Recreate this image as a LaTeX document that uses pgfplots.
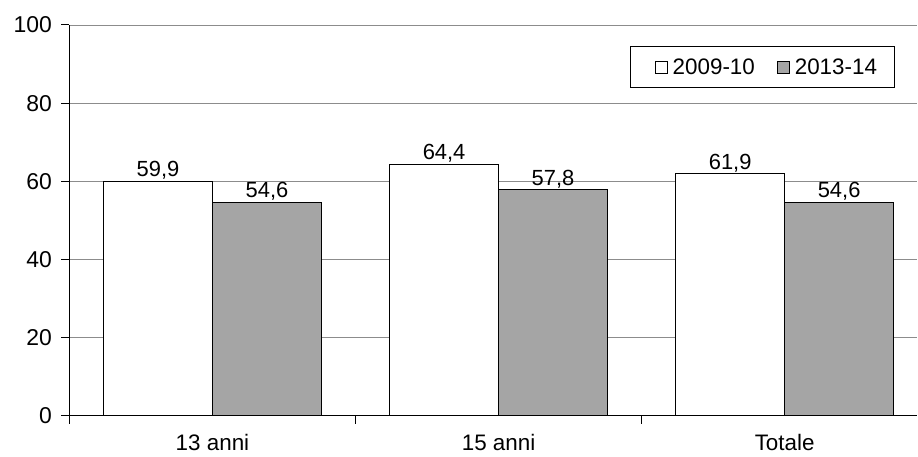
\documentclass[border=0pt]{standalone}
\usepackage{fontspec}
\setmainfont{Liberation Sans}
\usepackage{pgfplots}
\pgfplotsset{compat=1.18}
\definecolor{barg}{HTML}{A5A5A5}
\definecolor{gridc}{HTML}{8C8C8C}
\pgfplotsset{ybar legend/.style={legend image code/.code={\path (0bp,0bp); \draw[##1,draw=black,line width=0.9bp] (9bp,-6bp) rectangle (21bp,6bp);}}}
\begin{document}
\begin{tikzpicture}
\begin{axis}[
  scale only axis, width=848.5bp, height=391bp,
  ybar=0pt, bar width=109bp,
  ymin=0, ymax=100, ytick={0,20,...,100},
  xmin=-0.5, xmax=2.464,
  xtick={-0.5,0.5,1.5}, xticklabels={},
  extra x ticks={0,1,2}, extra x tick labels={13 anni,15 anni,Totale},
  extra x tick style={grid=none, tick style={draw=none}},
  axis x line=bottom, axis y line=left,
  axis line style={-, black, line width=1.2bp},
  tick align=outside, major tick length=8bp,
  tick style={black, line width=1bp},
  ymajorgrids, grid style={gridc, line width=0.9bp},
  /pgf/number format/assume math mode=true,
  tick label style={font=\fontsize{23}{25}\selectfont},
  yticklabel style={xshift=-6bp},
  xticklabel style={yshift=-7bp, font=\fontsize{22.5}{25}\selectfont},
  nodes near coords={\pgfmathprintnumber[fixed,fixed zerofill,precision=1,use comma,assume math mode=true]{\pgfplotspointmeta}},
  every node near coord/.append style={font=\fontsize{22}{24}\selectfont, inner sep=1.5bp, black},
  legend style={at={(0.973,0.946)}, anchor=north east, draw=black, line width=1bp,
    font=\fontsize{22.5}{25}\selectfont, legend columns=2, inner xsep=15bp, inner ysep=10bp,
    /tikz/every odd column/.append style={column sep=3bp},
    /tikz/every even column/.append style={column sep=11bp}},
]
\addplot[fill=white, draw=black, line width=1bp] coordinates {(0,59.9) (1,64.4) (2,61.9)};
\addplot[fill=barg, draw=black, line width=1bp] coordinates {(0,54.6) (1,57.8) (2,54.6)};
\legend{2009-10,2013-14}
\end{axis}
\path (current axis.south west) ++(-69.5bp,-41bp) coordinate (bbA);
\path (current axis.north east) ++(0bp,25bp) coordinate (bbB);
\end{tikzpicture}
\end{document}
